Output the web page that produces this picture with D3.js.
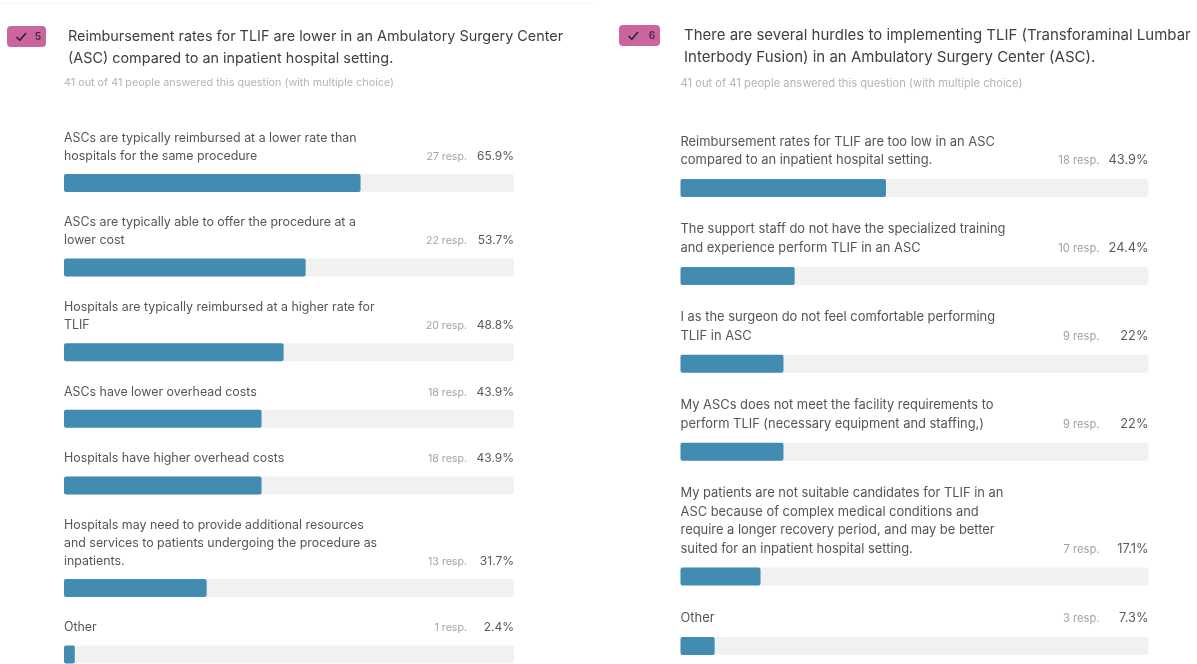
<!DOCTYPE html>
<html>
<head>
<meta charset="utf-8">
<script src="https://cdn.jsdelivr.net/npm/d3@7"></script>
<style>
  html, body { margin: 0; padding: 0; background: #fff; }
  svg { display: block; font-family: Inter, "Liberation Sans", sans-serif; filter: blur(0.45px); }
</style>
</head>
<body>
<svg id="chart" width="1197" height="664"></svg>
<script>
// question 5
const leftTitle = ['Reimbursement rates for TLIF are lower in an Ambulatory Surgery Center', '(ASC) compared to an inpatient hospital setting.'];
const leftLabels = [
  ['ASCs are typically reimbursed at a lower rate than', 'hospitals for the same procedure'],
  ['ASCs are typically able to offer the procedure at a', 'lower cost'],
  ['Hospitals are typically reimbursed at a higher rate for', 'TLIF'],
  ['ASCs have lower overhead costs'],
  ['Hospitals have higher overhead costs'],
  ['Hospitals may need to provide additional resources', 'and services to patients undergoing the procedure as', 'inpatients.'],
  ['Other']
];
const leftResp = [27, 22, 20, 18, 18, 13, 1];
const leftPct = [65.9, 53.7, 48.8, 43.9, 43.9, 31.7, 2.4];

// question 6
const rightTitle = ['There are several hurdles to implementing TLIF (Transforaminal Lumbar', 'Interbody Fusion) in an Ambulatory Surgery Center (ASC).'];
const rightLabels = [
  ['Reimbursement rates for TLIF are too low in an ASC', 'compared to an inpatient hospital setting.'],
  ['The support staff do not have the specialized training', 'and experience perform TLIF in an ASC'],
  ['I as the surgeon do not feel comfortable performing', 'TLIF in ASC'],
  ['My ASCs does not meet the facility requirements to', 'perform TLIF (necessary equipment and staffing,)'],
  ['My patients are not suitable candidates for TLIF in an', 'ASC because of complex medical conditions and', 'require a longer recovery period, and may be better', 'suited for an inpatient hospital setting.'],
  ['Other']
];
const rightResp = [18, 10, 9, 9, 7, 3];
const rightPct = [43.9, 24.4, 22, 22, 17.1, 7.3];

const answered = '41 out of 41 people answered this question (with multiple choice)';

const svg = d3.select('#chart');

// faint line at the very top of the left card
svg.append('rect').attr('x', 0).attr('y', 2).attr('width', 597).attr('height', 2).attr('fill', '#fafafa');

function drawQuestion(o) {
  const g = svg.append('g');
  const x = d3.scaleLinear().domain([0, 100]).range([o.x0, o.x1]);

  // pink badge with check and number
  g.append('rect').attr('x', o.badge[0]).attr('y', o.badge[1]).attr('width', o.badge[2]).attr('height', o.badge[3])
    .attr('rx', 4).attr('fill', '#cc659f');
  g.append('path')
    .attr('transform', `translate(${o.badge[0] + 9},${o.badge[1] + 6})`)
    .attr('d', 'M0.5 5 L3.8 8.3 L10 1')
    .attr('fill', 'none').attr('stroke', '#2a2a2a').attr('stroke-width', 1.7);
  g.append('text').attr('x', o.badge[0] + o.badge[2] - 8).attr('y', o.badge[1] + 14)
    .attr('text-anchor', 'middle').attr('font-size', 10).attr('font-weight', 700).attr('fill', '#4a3040')
    .text(o.num);

  // title and sub line
  g.selectAll('text.title').data(o.title).join('text').attr('class', 'title')
    .attr('x', o.titleX).attr('y', (d, i) => o.titleY + i * 22)
    .attr('font-size', o.titleSize).attr('fill', '#3f3f3f').text(d => d);
  g.append('text').attr('x', o.x0).attr('y', o.subY)
    .attr('font-size', o.subSize).attr('fill', '#b4b4b4').text(answered);

  // bar tops run down the column, a row grows with its line count
  let y = o.firstBar;
  const tops = o.labels.map((l, i) => {
    if (i > 0) y += o.rowBase + o.lineStep * l.length;
    return y;
  });

  const rows = g.selectAll('g.row').data(o.labels.map((l, i) => ({
    lines: l, resp: o.resp[i], pct: o.pct[i], top: tops[i]
  }))).join('g').attr('class', 'row');

  rows.append('rect').attr('x', x(0)).attr('y', d => d.top).attr('width', x(100) - x(0)).attr('height', 18)
    .attr('rx', 3).attr('fill', '#f1f1f1');
  rows.append('rect').attr('x', x(0)).attr('y', d => d.top).attr('width', d => x(d.pct) - x(0)).attr('height', 18)
    .attr('rx', 2).attr('fill', '#428cb2');

  rows.each(function (d) {
    const r = d3.select(this);
    const last = d.top - o.textGap;
    r.selectAll('text.lab').data(d.lines).join('text').attr('class', 'lab')
      .attr('x', x(0)).attr('y', (t, i) => last - (d.lines.length - 1 - i) * o.lineStep)
      .attr('font-size', o.labelSize).attr('fill', '#555').text(t => t);
    r.append('text').attr('x', x(100)).attr('y', last).attr('text-anchor', 'end')
      .attr('font-size', o.pctSize).attr('fill', '#5a5a5a').text(d.pct + '%');
    r.append('text').attr('x', x(100) - o.respGap).attr('y', last).attr('text-anchor', 'end')
      .attr('font-size', o.respSize).attr('fill', '#a2a2a2').text(d.resp + ' resp.');
  });
}

drawQuestion({
  x0: 64, x1: 514, badge: [7, 26, 39, 21], num: '5',
  title: leftTitle, titleX: 68, titleY: 41, titleSize: 14.4, subY: 86, subSize: 10.8,
  labels: leftLabels, resp: leftResp, pct: leftPct,
  firstBar: 174, rowBase: 48.6, lineStep: 18, textGap: 14.2, labelSize: 12.4,
  pctSize: 12, respSize: 10.6, respGap: 47
});
drawQuestion({
  x0: 680.5, x1: 1148.5, badge: [619, 25, 41, 21], num: '6',
  title: rightTitle, titleX: 684, titleY: 40, titleSize: 15, subY: 87, subSize: 11.2,
  labels: rightLabels, resp: rightResp, pct: rightPct,
  firstBar: 179, rowBase: 50.9, lineStep: 18.5, textGap: 15, labelSize: 12.9,
  pctSize: 12.8, respSize: 11.2, respGap: 49
});
</script>
</body>
</html>
